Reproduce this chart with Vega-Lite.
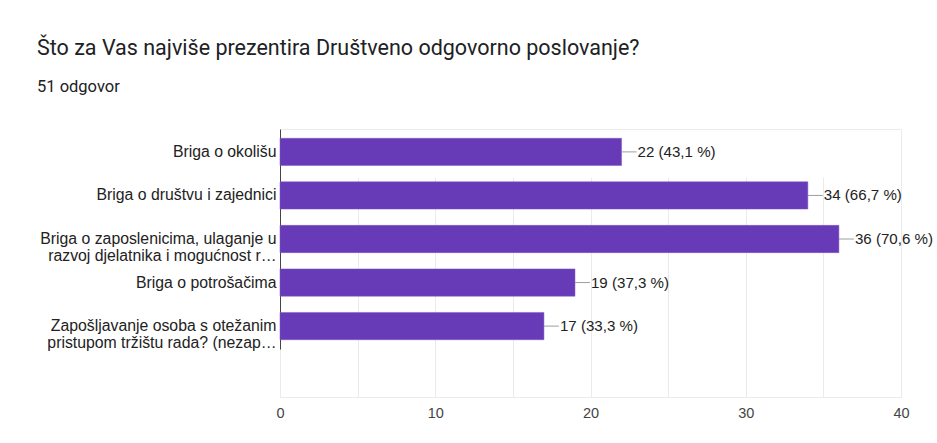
{
  "$schema": "https://vega.github.io/schema/vega-lite/v6.json",
  "autosize": "none",
  "width": 621,
  "height": 268,
  "padding": {"left": 280, "top": 129, "right": 36, "bottom": 46},
  "background": "white",
  "title": {
    "text": "Što za Vas najviše prezentira Društveno odgovorno poslovanje?",
    "subtitle": "51 odgovor",
    "anchor": "start",
    "frame": "group",
    "dx": -243,
    "offset": 34,
    "font": "Roboto",
    "fontSize": 21.5,
    "fontWeight": "normal",
    "color": "#202124",
    "subtitleFont": "Roboto",
    "subtitleFontSize": 16.5,
    "subtitleColor": "#202124",
    "subtitlePadding": 19
  },
  "config": {
    "view": {"stroke": "#ebebeb", "strokeWidth": 1},
    "axis": {"labelFont": "Liberation Sans", "labelColor": "#222222", "ticks": false, "title": null}
  },
  "data": {
    "values": [
      {"odgovor": "Briga o okolišu", "broj": 22, "tekst": "22 (43,1 %)"},
      {"odgovor": "Briga o društvu i zajednici", "broj": 34, "tekst": "34 (66,7 %)"},
      {"odgovor": "Briga o zaposlenicima, ulaganje u|razvoj djelatnika i mogućnost r…", "broj": 36, "tekst": "36 (70,6 %)"},
      {"odgovor": "Briga o potrošačima", "broj": 19, "tekst": "19 (37,3 %)"},
      {"odgovor": "Zapošljavanje osoba s otežanim|pristupom tržištu rada? (nezap…", "broj": 17, "tekst": "17 (33,3 %)"}
    ]
  },
  "encoding": {
    "y": {
      "field": "odgovor",
      "type": "nominal",
      "sort": null,
      "scale": {"range": [0, 220], "paddingInner": 0.374, "paddingOuter": 0.213},
      "axis": {
        "labelExpr": "split(datum.label, '|')",
        "labelFontSize": 15.8,
        "labelLineHeight": 16.5,
        "labelPadding": 4,
        "labelLimit": 300,
        "domain": true,
        "domainColor": "#444444",
        "domainWidth": 1,
        "grid": false
      }
    }
  },
  "layer": [
    {
      "mark": {"type": "bar", "color": "#673ab7", "stroke": "#7e57c2", "strokeWidth": 0.5},
      "encoding": {
        "x": {
          "field": "broj",
          "type": "quantitative",
          "scale": {"domain": [0, 40], "nice": false},
          "axis": {
            "values": [0, 5, 10, 15, 20, 25, 30, 35, 40],
            "labelExpr": "datum.value % 10 === 0 ? datum.label : ''",
            "labelFontSize": 14.5,
            "labelPadding": 9,
            "labelFlush": false,
            "labelColor": "#444444",
            "domain": false,
            "grid": true,
            "gridColor": "#ebebeb",
            "gridWidth": 1
          }
        }
      }
    },
    {
      "mark": {"type": "rule", "color": "#9e9e9e", "strokeWidth": 1, "x2Offset": 15},
      "encoding": {
        "x": {"field": "broj", "type": "quantitative"},
        "x2": {"field": "broj"}
      }
    },
    {
      "mark": {"type": "text", "align": "left", "baseline": "middle", "dx": 16, "font": "Liberation Sans", "fontSize": 15.1, "color": "#222222"},
      "encoding": {
        "x": {"field": "broj", "type": "quantitative"},
        "text": {"field": "tekst"}
      }
    }
  ]
}
